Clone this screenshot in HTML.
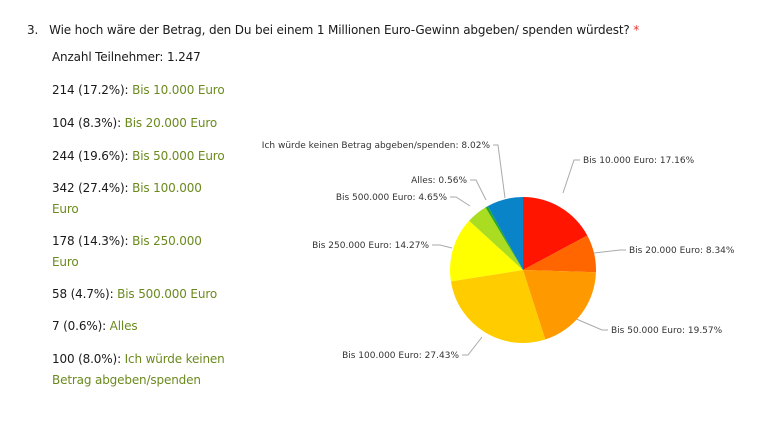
<!DOCTYPE html>
<html><head><meta charset="utf-8"><style>
body{margin:0;width:760px;height:426px;background:#fff;position:relative;overflow:hidden;font-family:"DejaVu Sans","Liberation Sans",sans-serif;}
.t{position:absolute;font-size:12px;color:#1a1a1a;white-space:nowrap;line-height:21px;letter-spacing:-0.15px}
.g{color:#6b8a1e}
svg{position:absolute;left:0;top:0}
svg text{font-family:"DejaVu Sans","Liberation Sans",sans-serif;font-size:9px;fill:#333}
</style></head><body>
<div class="t" style="left:27px;top:20px">3.&nbsp;&nbsp;&nbsp;Wie hoch wäre der Betrag, den Du bei einem 1 Millionen Euro-Gewinn abgeben/ spenden würdest? <span style="color:#e33">*</span></div>
<div class="t" style="left:52px;top:47px">Anzahl Teilnehmer: 1.247</div>
<div class="t" style="left:52px;top:80px">214 (17.2%): <span class="g">Bis 10.000 Euro</span></div>
<div class="t" style="left:52px;top:113px">104 (8.3%): <span class="g">Bis 20.000 Euro</span></div>
<div class="t" style="left:52px;top:146px">244 (19.6%): <span class="g">Bis 50.000 Euro</span></div>
<div class="t" style="left:52px;top:178px">342 (27.4%): <span class="g">Bis 100.000<br>Euro</span></div>
<div class="t" style="left:52px;top:231px">178 (14.3%): <span class="g">Bis 250.000<br>Euro</span></div>
<div class="t" style="left:52px;top:284px">58 (4.7%): <span class="g">Bis 500.000 Euro</span></div>
<div class="t" style="left:52px;top:316px">7 (0.6%): <span class="g">Alles</span></div>
<div class="t" style="left:52px;top:349px">100 (8.0%): <span class="g">Ich würde keinen<br>Betrag abgeben/spenden</span></div>
<svg id="s" width="760" height="426">
<g fill="none" stroke="#aaa" stroke-width="1">
<polyline points="563,193 574,160 580,160"/>
<polyline points="594,253 620,250 626,250"/>
<polyline points="574,318 602,330 608,330"/>
<polyline points="482,337 468,355 462,355"/>
<polyline points="452,248 440,245 432,245"/>
<polyline points="470,206 456,197 450,197"/>
<polyline points="486,200 476,180 470,180"/>
<polyline points="505,198 498,145 493,145"/>
</g>
<text x="583" y="163">Bis 10.000 Euro: 17.16%</text>
<text x="629" y="253">Bis 20.000 Euro: 8.34%</text>
<text x="611" y="333">Bis 50.000 Euro: 19.57%</text>
<text x="459" y="358" text-anchor="end">Bis 100.000 Euro: 27.43%</text>
<text x="429" y="248" text-anchor="end">Bis 250.000 Euro: 14.27%</text>
<text x="447" y="200" text-anchor="end">Bis 500.000 Euro: 4.65%</text>
<text x="467" y="183" text-anchor="end">Alles: 0.56%</text>
<text x="490" y="148" text-anchor="end">Ich würde keinen Betrag abgeben/spenden: 8.02%</text>
<g id="p"></g>
</svg>
<script>
var v=[17.16,8.34,19.57,27.43,14.27,4.65,0.56,8.02],c=["#ff1500","#ff6600","#ff9900","#ffcc00","#ffff00","#aadd22","#22aa22","#0a84c8"];
var cx=523,cy=270,r=73,a=0,h="";
for(var i=0;i<v.length;i++){var a0=a*Math.PI/50;a+=v[i];var a1=a*Math.PI/50;
var x0=cx+r*Math.sin(a0),y0=cy-r*Math.cos(a0),x1=cx+r*Math.sin(a1),y1=cy-r*Math.cos(a1);
h+='<path d="M'+cx+','+cy+'L'+x0+','+y0+'A'+r+','+r+' 0 '+(v[i]>50?1:0)+' 1 '+x1+','+y1+'Z" fill="'+c[i]+'"/>';}
document.getElementById("p").innerHTML=h;
</script>
</body></html>
